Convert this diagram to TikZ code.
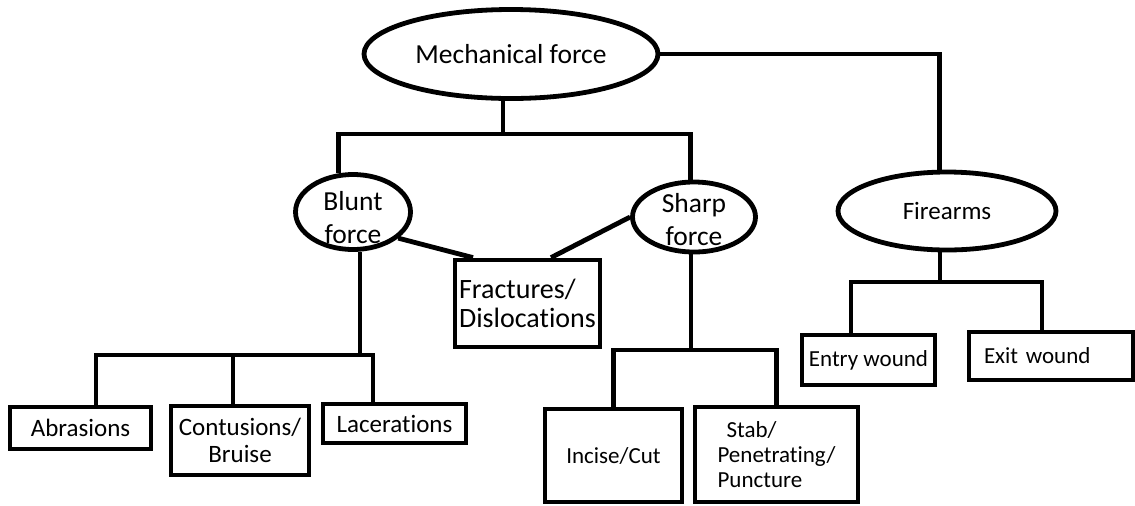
\documentclass[tikz,border=0pt]{standalone}
\usepackage{fontspec}
\setmainfont{Carlito}[Ligatures=NoCommon,Contextuals=NoAlternate,RawFeature=-clig]
\usetikzlibrary{shapes.geometric}

\begin{document}
\begin{tikzpicture}[x=0.5pt,y=-0.5pt,line width=2.4pt,
        oval/.style={ellipse,draw,inner sep=0pt,align=center},
        wbox/.style={rectangle,draw,inner sep=0pt,align=center},
        bigtext/.style={font=\fontsize{13.75}{16.5}\selectfont},
        midtext/.style={font=\fontsize{12.5}{13.5}\selectfont},
        smalltext/.style={font=\fontsize{11.5}{12.5}\selectfont}]
                \useasboundingbox (0,0) rectangle (1135,505);
                % ovals
                \node[oval,bigtext,minimum width=147pt,minimum height=44.5pt] (mech) at (511,54) {Mechanical force};
                \node[oval,minimum width=57.5pt,minimum height=37.5pt,
                    label={[bigtext,align=center,yshift=-3pt]center:Blunt\\force}] (blunt) at (353,212) {};
                \node[oval,minimum width=61.5pt,minimum height=35pt,
                    label={[bigtext,align=center,yshift=-1.5pt]center:Sharp\\force}] (sharp) at (694,217) {};
                \node[oval,midtext,minimum width=109pt,minimum height=39pt] (fire) at (947,211) {Firearms};
                % boxes
                \node[wbox,align=left,font=\fontsize{14}{14.5}\selectfont,minimum width=72.5pt,minimum height=43.5pt] (frac) at (527.5,303.5) {Fractures/\\Dislocations};
                \node[wbox,midtext,minimum width=70.5pt,minimum height=21pt] (abr) at (80.5,428) {Abrasions};
                \node[wbox,midtext,minimum width=69pt,minimum height=34.5pt] (cont) at (240,440.5) {Contusions/\\Bruise};
                \node[wbox,midtext,minimum width=71.5pt,minimum height=19.5pt] (lac) at (394.5,423.5) {Lacerations};
                \node[wbox,smalltext,minimum width=68.5pt,minimum height=46.5pt] (incise) at (613.5,455.5) {Incise/Cut};
                \node[wbox,smalltext,align=left,minimum width=81.5pt,minimum height=47.5pt] (stab) at (776.5,454.5) {\hspace*{4.5pt}Stab/\\Penetrating/\\Puncture};
                \node[wbox,smalltext,minimum width=66.5pt,minimum height=25pt] (entry) at (868.5,360) {Entry wound};
                \node[wbox,smalltext,align=left,inner xsep=7.5pt,text width=67pt,minimum height=24pt] (exit) at (1051,356) {Exit wound};
                % mechanical force
                \coordinate (mbar) at (503,134);
                \draw (mbar |- mech.south) -- (mbar);
                \draw (blunt.110) |- (mbar) -| (sharp.95);
                \draw (mech.east) -| (fire.100);
                % blunt force
                \coordinate (bbar) at (360,355);
                \draw (bbar |- blunt.south) -- (bbar);
                \draw ([xshift=7.75pt]abr.north) |- (bbar) -| ([xshift=-10.75pt]lac.north);
                \draw ([xshift=-3.5pt]cont.north) |- (bbar);
                \draw (blunt.-30) -- ([xshift=-27.25pt]frac.north);
                % sharp force
                \coordinate (sbar) at (691,350);
                \draw (sbar |- sharp.south) -- (sbar);
                \draw (incise.north) |- (sbar) -| (stab.north);
                \draw (sharp.west) -- ([xshift=11.75pt]frac.north);
                % firearms
                \coordinate (fbar) at (940,282);
                \draw (fbar |- fire.south) -- (fbar);
                \draw ([xshift=-8.75pt]entry.north) |- (fbar) -| ([xshift=-4.5pt]exit.north);
            \end{tikzpicture}
\end{document}
